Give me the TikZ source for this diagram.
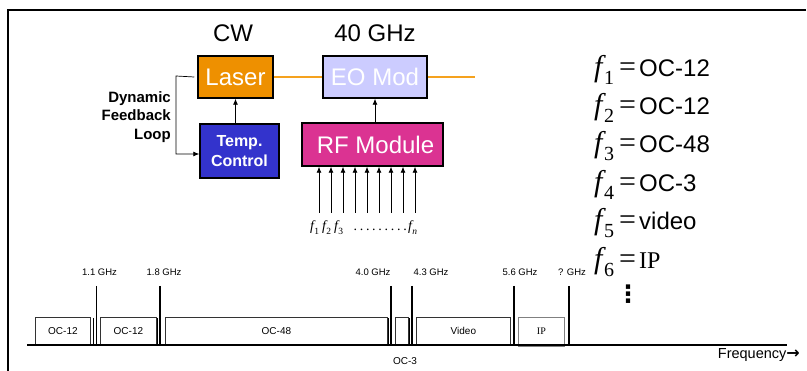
\documentclass[tikz,border=0pt]{standalone}
\usepackage{fontspec}
\setmainfont{Liberation Sans}
\newfontfamily\tmr{Liberation Serif}
\newfontfamily\djs{DejaVu Sans}
\usetikzlibrary{arrows.meta}
\definecolor{laserc}{HTML}{EE9000}
\definecolor{eoc}{HTML}{CCCCFF}
\definecolor{tempc}{HTML}{3333CC}
\definecolor{rfc}{HTML}{DB3392}
\definecolor{orline}{HTML}{F5A21E}
\newcommand\fsz[1]{\fontsize{#1}{#1}\selectfont}
\newcommand\bigf[1]{{\tmr\itshape\fsz{30}f}\kern1.5pt\raisebox{-8pt}{\tmr\fsz{20}#1}}
\newcommand\smf[1]{{\tmr\itshape\fsz{14}f}\kern0.3pt\raisebox{-3.5pt}{\tmr\fsz{9.5}#1}}
\newcommand\fsubn{{\tmr\itshape\fsz{14}f}\kern0.3pt\raisebox{-3.5pt}{\tmr\itshape\fsz{9.5}n}}
\begin{document}
\begin{tikzpicture}[x=1pt,y=-1pt,
  blockbox/.style={draw=black, line width=1.5pt, text=white, inner sep=0pt, font=\fsz{24}},
  arr/.style={-{Latex[length=6pt,width=5pt]}, line width=0.8pt},
  band/.style={draw=black!80, line width=0.8pt, inner sep=0pt, anchor=south west, font=\fsz{10}},
  tick/.style={line width=1.5pt},
  ghz/.style={font=\fsz{9.5}},
  fitem/.style={anchor=base west, inner sep=0pt, font=\fsz{24}},
  orangeline/.style={draw=orline, line width=2pt}]
\useasboundingbox (0,0) rectangle (807,371);
% frame
\draw[line width=1.5pt] (806,10) -- (8,10) -- (8,371);

% top labels
\node[font=\fsz{24}] (cw) at (233,33) {CW};
\node[font=\fsz{24}] (ghz40) at (375,33) {40 GHz};

% blocks
\node[blockbox, fill=laserc, minimum width=75pt, minimum height=42pt] (laser) at (235.5,77) {Laser};
\node[blockbox, fill=eoc, minimum width=104pt, minimum height=42pt] (eo) at (375,77) {EO Mod};
\node[blockbox, fill=tempc, minimum width=79pt, minimum height=54pt, align=center,
      font=\fontsize{16}{20}\selectfont\bfseries] (temp) at (239.5,151) {Temp.\\Control};
\node[blockbox, fill=rfc, minimum width=141pt, minimum height=43pt] (rf) at (372.5,144.5) {\kern6pt RF Module};

% optical line
\coordinate (eoout) at (475,77);
\draw[orangeline] (laser.east) -- (eo.west);
\draw[orangeline] (eo.east) -- (eoout);

% control arrows
\draw[arr] (laser.south |- temp.north) -- (laser.south);
\draw[arr] (eo.south |- rf.north) -- (eo.south);

% feedback loop
\coordinate (fbc) at (176,76);
\draw[arr, line width=0.7pt] ([xshift=-3pt]laser.west) -- (fbc) |- ([yshift=-3pt]temp.west);
\node[font=\fontsize{15}{18.5}\selectfont\bfseries, align=right, anchor=east, inner sep=0pt] (fbl) at (171,117) {Dynamic\\Feedback\\Loop};

% input arrows
\foreach \i/\x in {1/319,2/331,3/343,4/355,5/367,6/379,7/391,8/403,9/415} {
  \coordinate (in\i) at (\x,213);
  \draw[arr] (in\i) -- (in\i |- rf.south);
}
\node[anchor=base west, inner sep=0pt] (lf1) at (310,231) {\smf{1}};
\node[anchor=base west, inner sep=0pt] (lf2) at (322,231) {\smf{2}};
\node[anchor=base west, inner sep=0pt] (lf3) at (334,231) {\smf{3}};
\node[anchor=base west, inner sep=0pt, font=\tmr\fsz{14}] (ldots) at (352,231) {\hbox to 56pt{\xleaders\hbox to 6.2pt{\hss.\hss}\hfill}};
\node[anchor=base west, inner sep=0pt] (lfn) at (408,231) {\fsubn};

% right list
\node[fitem] (r1) at (594,77) {\makebox[25pt][l]{\bigf{1}}\makebox[20pt][l]{\tmr\fsz{30}=}OC-12};
\node[fitem] (r2) at (594,115) {\makebox[25pt][l]{\bigf{2}}\makebox[20pt][l]{\tmr\fsz{30}=}OC-12};
\node[fitem] (r3) at (594,153) {\makebox[25pt][l]{\bigf{3}}\makebox[20pt][l]{\tmr\fsz{30}=}OC-48};
\node[fitem] (r4) at (594,192) {\makebox[25pt][l]{\bigf{4}}\makebox[20pt][l]{\tmr\fsz{30}=}OC-3};
\node[fitem] (r5) at (594,230) {\makebox[25pt][l]{\bigf{5}}\makebox[20pt][l]{\tmr\fsz{30}=}video};
\node[fitem] (r6) at (594,269) {\makebox[25pt][l]{\bigf{6}}\makebox[20pt][l]{\tmr\fsz{30}=}{\tmr IP}};
\node[font=\djs\bfseries\fsz{24}, inner sep=0pt] (vd) at (628,294) {⋮};

% spectrum axis
\coordinate (ax0) at (27,345);
\coordinate (ax1) at (787,345);

\node[band, minimum width=55pt, minimum height=27pt] (b1) at (35,345) {OC-12};
\node[band, minimum width=56pt, minimum height=27pt] (b2) at (100,345) {OC-12};
\node[band, minimum width=222pt, minimum height=27pt] (b3) at (165,345) {OC-48};
\node[band, minimum width=13pt, minimum height=27pt] (b4) at (395,345) {};
\node[band, minimum width=94pt, minimum height=27pt] (b5) at (416,345) {Video};
\node[band, draw=gray, minimum width=46pt, minimum height=29pt] (b6) at (518,347) {\raisebox{1pt}{\tmr IP}};
\node[font=\fsz{10}] (oc3) at (405,361) {OC-3};

\draw[line width=2pt] (ax0) -- (ax1);

% short guard lines
\foreach \x in {93.5,157.5,388.5,409.5} { \draw[line width=0.8pt] (\x,318) -- (\x,345); }
% tall frequency markers
\draw[line width=1pt] (96,286) -- (96,345);
\foreach \x in {160,391,412,514,569} { \draw[tick] (\x,286) -- (\x,345); }
\node[ghz] (g1) at (99.5,272) {1.1 GHz};
\node[ghz] (g2) at (164,272) {1.8 GHz};
\node[ghz] (g3) at (373,272) {4.0 GHz};
\node[ghz] (g4) at (431,272) {4.3 GHz};
\node[ghz] (g5) at (520,272) {5.6 GHz};
\node[ghz] (g6) at (572,272) {? GHz};

\node[anchor=east, font=\fsz{14.5}, inner sep=0pt] (freq) at (800,355) {Frequency{\djs\bfseries\fsz{16}→}};
\end{tikzpicture}
\end{document}
